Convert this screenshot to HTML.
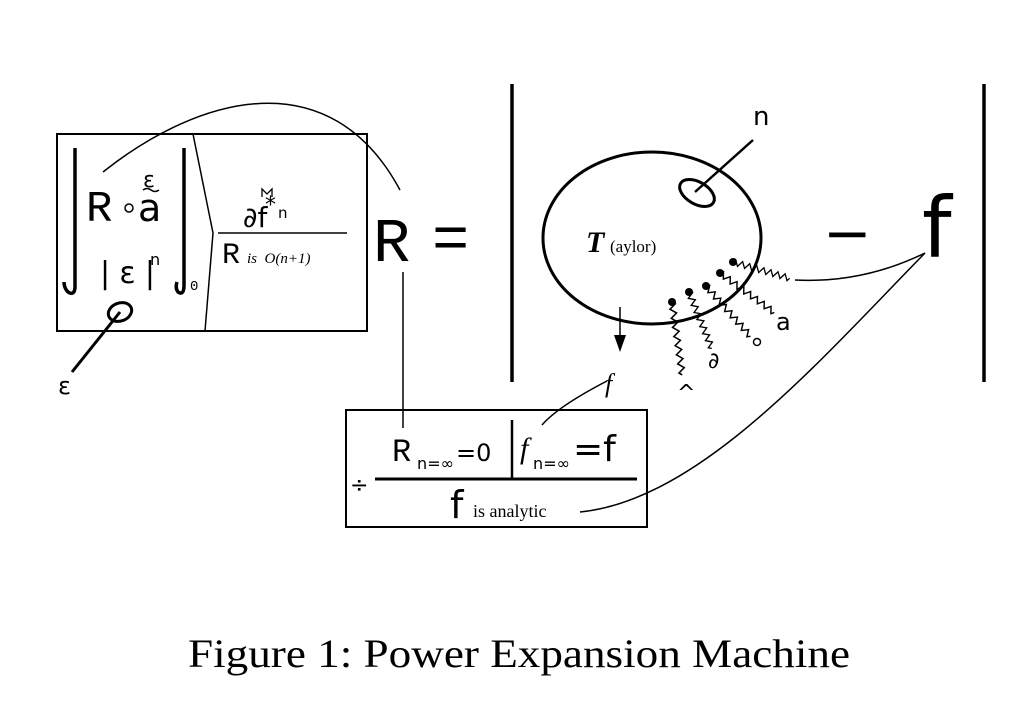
<!DOCTYPE html>
<html><head><meta charset="utf-8"><style>
html,body{margin:0;padding:0;background:#fff}
svg{display:block}
.m{font-family:"Liberation Mono","DejaVu Sans Mono",monospace}
.s{font-family:"DejaVu Sans","Liberation Sans",sans-serif}
.r{font-family:"Liberation Serif","DejaVu Serif",serif}
</style></head><body>
<svg width="1034" height="714" viewBox="0 0 1034 714" xmlns="http://www.w3.org/2000/svg">
<defs>
<path id="zz" d="M0,0 l2,-3 l4,6 l2,-3 l2,-3 l4,6 l2,-3 l2,-3 l4,6 l2,-3 l2,-3 l4,6 l2,-3 l2,-3 l4,6 l2,-3 l2,-3 l4,6 l2,-3 l2,-3 l4,6 l2,-3 l2,-3 l4,6 l2,-3" fill="none" stroke="#000" stroke-width="1.4"/>
</defs>
<g fill="none" stroke="#000">
<rect x="57" y="134" width="310" height="197" stroke-width="2"/>
<polyline points="193,134 213,233 205,331" stroke-width="1.5"/>
<path d="M75,148 L75,288 Q74,296 68,292 Q64,288 64,282" stroke-width="3.5"/>
<path d="M184,148 L184,285 Q184,296 178,292 Q175,288 177,282" stroke-width="3.5"/>
<line x1="218" y1="233" x2="347" y2="233" stroke-width="1.5"/>
<ellipse cx="120" cy="312" rx="12" ry="9" stroke-width="3" transform="rotate(-20 120 312)"/>
<line x1="120" y1="312" x2="72" y2="372" stroke-width="3"/>
<path d="M103,172 C200,95 330,60 400,190" stroke-width="1.5"/>
<line x1="403" y1="272" x2="403" y2="428" stroke-width="1.5"/>
<line x1="512" y1="84" x2="512" y2="382" stroke-width="3.5"/>
<line x1="984" y1="84" x2="984" y2="382" stroke-width="3.5"/>
<ellipse cx="652" cy="238" rx="109" ry="86" stroke-width="3"/>
<ellipse cx="697" cy="193" rx="19" ry="11" stroke-width="3" transform="rotate(30 697 193)"/>
<line x1="695" y1="192" x2="753" y2="140" stroke-width="2.5"/>
<line x1="620" y1="307" x2="620" y2="335" stroke-width="1.5"/>
<use href="#zz" transform="translate(733,262) rotate(16) scale(0.92,1)"/>
<path d="M795,280 C835,282 880,275 925,253" stroke-width="1.5"/>
<use href="#zz" transform="translate(720,273) rotate(36) scale(1.05,1)"/>
<use href="#zz" transform="translate(706,286) rotate(48.5) scale(1.05,1)"/>
<use href="#zz" transform="translate(689,292) rotate(68) scale(0.95,1)"/>
<use href="#zz" transform="translate(672,302) rotate(82) scale(1.15,1)"/>
<circle cx="757" cy="342" r="3.5" stroke-width="1.5"/>
<path d="M925,253 C820,360 700,500 580,512" stroke-width="1.5"/>
<path d="M607,381 C580,395 555,410 542,425" stroke-width="1.5"/>
<rect x="346" y="410" width="301" height="117" stroke-width="2"/>
<line x1="375" y1="479" x2="637" y2="479" stroke-width="3"/>
<line x1="512" y1="420" x2="512" y2="479" stroke-width="2.5"/>
</g>
<g fill="#000">
<circle cx="733" cy="262" r="4"/><circle cx="720" cy="273" r="4"/><circle cx="706" cy="286" r="4"/><circle cx="689" cy="292" r="4"/><circle cx="672" cy="302" r="4"/>
<polygon points="614,335 626,335 620,352"/>
</g>
<g fill="#000">
<text x="86" y="221" class="m" font-size="44">R</text>
<circle cx="129" cy="208" r="4" fill="none" stroke="#000" stroke-width="1.5"/>
<text x="138" y="221" class="s" font-size="38">a</text>
<text x="143" y="187" class="s" font-size="22">ε</text>
<path d="M143,190 q4,-3 8,0 t8,0" fill="none" stroke="#000" stroke-width="1.5"/>
<text x="100" y="283" class="s" font-size="30" textLength="55">|ε|</text>
<text x="150" y="265" class="s" font-size="16">n</text>
<text x="190" y="290" class="m" font-size="14">0</text>
<text x="243" y="227" class="s" font-size="28">∂f</text>
<text x="265" y="212" class="s" font-size="22">*</text>
<text x="278" y="218" class="s" font-size="15">n</text>
<path d="M262,197 l0,-8 l5,5 l5,-5 l0,8" fill="none" stroke="#000" stroke-width="1.3"/>
<text x="222" y="263" class="m" font-size="30">R</text>
<text x="247" y="263" class="r" font-size="15" font-style="italic">is &#160;O(n+1)</text>
<text x="58" y="394" class="s" font-size="24">ε</text>
<text x="373" y="261" class="m" font-size="62">R</text>
<text x="432" y="258" class="m" font-size="62">=</text>
<text x="586" y="252" class="r" font-size="30" font-style="italic" font-weight="bold">T</text>
<text x="610" y="252" class="r" font-size="17">(aylor)</text>
<text x="753" y="125" class="s" font-size="26">n</text>
<text x="823" y="253" class="s" font-size="58">−</text>
<text x="922" y="257" class="s" font-size="84">f</text>
<text x="776" y="330" class="s" font-size="24">a</text>
<text x="708" y="368" class="s" font-size="22">∂</text>
<text x="677" y="400" class="s" font-size="22">^</text>
<text x="605" y="392" class="r" font-size="26" font-style="italic">f</text>
<text x="350" y="492" class="s" font-size="22">÷</text>
<text x="392" y="461" class="m" font-size="32">R</text>
<text x="417" y="469" class="s" font-size="16" textLength="37">n=∞</text>
<text x="456" y="461" class="s" font-size="24">=0</text>
<text x="520" y="458" class="r" font-size="30" font-style="italic">f</text>
<text x="533" y="469" class="s" font-size="16" textLength="37">n=∞</text>
<text x="573" y="461" class="s" font-size="36">=f</text>
<text x="450" y="518" class="s" font-size="38">f</text>
<text x="473" y="517" class="r" font-size="18">is analytic</text>
<text x="188" y="667" class="r" font-size="40" textLength="662" lengthAdjust="spacingAndGlyphs">Figure 1: Power Expansion Machine</text>
</g>
</svg>
</body></html>
